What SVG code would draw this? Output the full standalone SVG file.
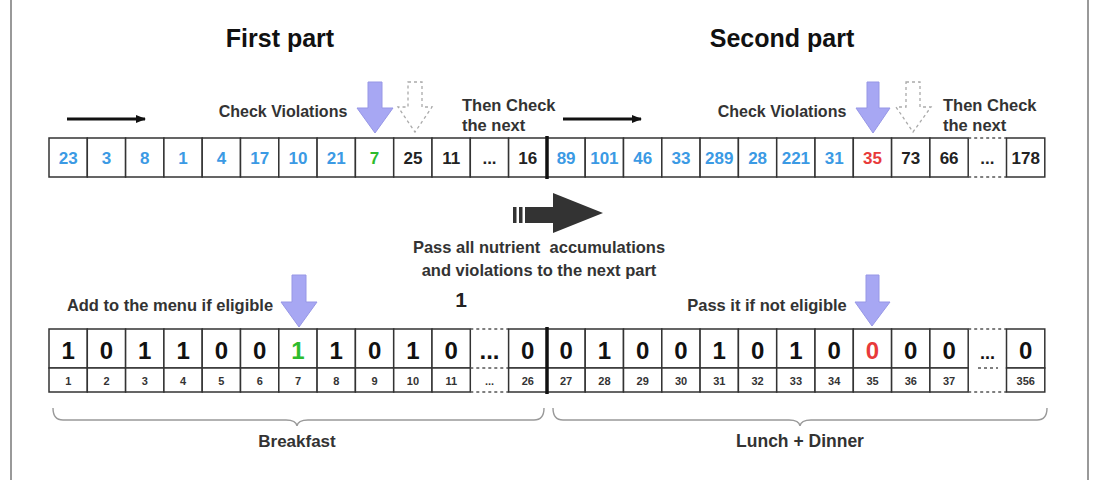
<svg xmlns="http://www.w3.org/2000/svg" width="1093" height="480" viewBox="0 0 1093 480">
<defs>
<style>
text{font-family:"Liberation Sans",Arial,sans-serif;font-weight:bold;text-anchor:middle}
.title{font-size:25px;fill:#111}
.lbl{font-size:16px;fill:#333}
.lbll{font-size:16.5px;fill:#333;text-anchor:start}
.tn{font-size:17px;dominant-baseline:central}
.bv{font-size:24px;fill:#111;dominant-baseline:central}
.bi{font-size:11px;fill:#333;dominant-baseline:central}
.bl{fill:#3b9ae4}
.bk{fill:#222}
text.gr{fill:#2dbb2d}
text.rd{fill:#e83a3a}
.cell{fill:#fff;stroke:#333;stroke-width:1.5}
.dash{stroke:#555;stroke-width:1.3;stroke-dasharray:3 3;fill:none}
.sep{stroke:#111;stroke-width:3.5}
.parr{fill:#a7a7f3;stroke:#9797e6;stroke-width:1}
.darr{fill:none;stroke:#aaa;stroke-width:1.3;stroke-dasharray:3 3}
.brace{fill:none;stroke:#999;stroke-width:1.4}
</style>
<marker id="ah" markerWidth="10" markerHeight="8" refX="9" refY="4" orient="auto" markerUnits="userSpaceOnUse">
<path d="M0,0 L10,4 L0,8 Z" fill="#111"/>
</marker>
</defs>
<rect x="0" y="0" width="1093" height="480" fill="#fff"/>
<line x1="11" y1="0" x2="11" y2="480" stroke="#777" stroke-width="1.5"/>
<line x1="1088" y1="0" x2="1088" y2="480" stroke="#777" stroke-width="1.5"/>

<g id="titles">
<text class="title" x="280" y="47">First part</text>
<text class="title" x="782" y="47">Second part</text>
</g>

<g id="connectors">
<line x1="67" y1="119" x2="145" y2="119" stroke="#111" stroke-width="3" marker-end="url(#ah)"/>
<line x1="563" y1="119" x2="641" y2="119" stroke="#111" stroke-width="3" marker-end="url(#ah)"/>
<g id="pass-arrow" fill="#333">
<rect x="513" y="207" width="3.5" height="16"/>
<rect x="519" y="207" width="3.5" height="16"/>
<polygon points="525,207 553,207 553,193 603,213 553,233 553,223 525,223"/>
</g>
<polygon class="parr" points="368,82 382,82 382,108 393,108 375,133 357,108 368,108"/>
<polygon class="darr" points="408,82 422,82 422,107 432,107 415,132 398,107 408,107"/>
<polygon class="parr" points="867,82 879,82 879,108 890,108 873,133 856,108 867,108"/>
<polygon class="darr" points="906,82 920,82 920,107 931,107 913,132 896,107 906,107"/>
<polygon class="parr" points="292,275 306,275 306,302 317,302 299,327 281,302 292,302"/>
<polygon class="parr" points="866,275 879,275 879,302 890,302 872,326 855,302 866,302"/>
</g>

<g id="labels">
<text class="lbl" x="283" y="117">Check Violations</text>
<text class="lbl" x="782" y="117">Check Violations</text>
<text class="lbll" x="462" y="111">Then Check</text>
<text class="lbll" x="462" y="131">the next</text>
<text class="lbll" x="943" y="111">Then Check</text>
<text class="lbll" x="943" y="131">the next</text>
<text class="lbl" x="539" y="253" style="font-size:16.5px" xml:space="preserve">Pass all nutrient  accumulations</text>
<text class="lbl" x="539" y="276" style="font-size:16.5px">and violations to the next part</text>
<text x="461" y="307" style="font-size:21px;fill:#222">1</text>
<text class="lbl" x="170" y="311" style="font-size:16.5px">Add to the menu if eligible</text>
<text class="lbl" x="767" y="311" style="font-size:16.5px">Pass it if not eligible</text>
</g>

<g id="top-row">
<rect class="cell" x="49" y="138" width="38.3" height="39"/>
<rect class="cell" x="87.3" y="138" width="38.3" height="39"/>
<rect class="cell" x="125.6" y="138" width="38.3" height="39"/>
<rect class="cell" x="163.9" y="138" width="38.3" height="39"/>
<rect class="cell" x="202.2" y="138" width="38.3" height="39"/>
<rect class="cell" x="240.5" y="138" width="38.3" height="39"/>
<rect class="cell" x="278.8" y="138" width="38.3" height="39"/>
<rect class="cell" x="317.1" y="138" width="38.3" height="39"/>
<rect class="cell" x="355.4" y="138" width="38.3" height="39"/>
<rect class="cell" x="393.7" y="138" width="38.3" height="39"/>
<rect class="cell" x="432" y="138" width="38.3" height="39"/>
<rect class="cell" x="470.3" y="138" width="38.3" height="39"/>
<rect class="cell" x="508.6" y="138" width="38.3" height="39"/>
<rect class="cell" x="546.9" y="138" width="38.3" height="39"/>
<rect class="cell" x="585.2" y="138" width="38.3" height="39"/>
<rect class="cell" x="623.5" y="138" width="38.3" height="39"/>
<rect class="cell" x="661.8" y="138" width="38.3" height="39"/>
<rect class="cell" x="700.1" y="138" width="38.3" height="39"/>
<rect class="cell" x="738.4" y="138" width="38.3" height="39"/>
<rect class="cell" x="776.7" y="138" width="38.3" height="39"/>
<rect class="cell" x="815" y="138" width="38.3" height="39"/>
<rect class="cell" x="853.3" y="138" width="38.3" height="39"/>
<rect class="cell" x="891.6" y="138" width="38.3" height="39"/>
<rect class="cell" x="929.9" y="138" width="38.3" height="39"/>
<line class="dash" x1="968.2" y1="138" x2="1006.5" y2="138"/>
<line class="dash" x1="968.2" y1="177" x2="1006.5" y2="177"/>
<rect class="cell" x="1006.5" y="138" width="38.3" height="39"/>
<line class="sep" x1="547" y1="136" x2="547" y2="179"/>
<g>
<text class="tn bl" x="68.2" y="158">23</text>
<text class="tn bl" x="106.5" y="158">3</text>
<text class="tn bl" x="144.8" y="158">8</text>
<text class="tn bl" x="183.1" y="158">1</text>
<text class="tn bl" x="221.4" y="158">4</text>
<text class="tn bl" x="259.7" y="158">17</text>
<text class="tn bl" x="298" y="158">10</text>
<text class="tn bl" x="336.3" y="158">21</text>
<text class="tn gr" x="374.6" y="158">7</text>
<text class="tn bk" x="412.9" y="158">25</text>
<text class="tn bk" x="451.2" y="158">11</text>
<text class="tn bk" x="489.5" y="158">...</text>
<text class="tn bk" x="527.8" y="158">16</text>
<text class="tn bl" x="566.1" y="158">89</text>
<text class="tn bl" x="604.4" y="158">101</text>
<text class="tn bl" x="642.7" y="158">46</text>
<text class="tn bl" x="681" y="158">33</text>
<text class="tn bl" x="719.3" y="158">289</text>
<text class="tn bl" x="757.6" y="158">28</text>
<text class="tn bl" x="795.9" y="158">221</text>
<text class="tn bl" x="834.2" y="158">31</text>
<text class="tn rd" x="872.5" y="158">35</text>
<text class="tn bk" x="910.8" y="158">73</text>
<text class="tn bk" x="949.1" y="158">66</text>
<text class="tn bk" x="987.4" y="158">...</text>
<text class="tn bk" x="1025.7" y="158">178</text>
</g>
</g>

<g id="bottom-row">
<g id="bottom-cells">
<rect class="cell" x="49" y="329" width="38.3" height="39"/><rect class="cell" x="49" y="368" width="38.3" height="24"/>
<rect class="cell" x="87.3" y="329" width="38.3" height="39"/><rect class="cell" x="87.3" y="368" width="38.3" height="24"/>
<rect class="cell" x="125.6" y="329" width="38.3" height="39"/><rect class="cell" x="125.6" y="368" width="38.3" height="24"/>
<rect class="cell" x="163.9" y="329" width="38.3" height="39"/><rect class="cell" x="163.9" y="368" width="38.3" height="24"/>
<rect class="cell" x="202.2" y="329" width="38.3" height="39"/><rect class="cell" x="202.2" y="368" width="38.3" height="24"/>
<rect class="cell" x="240.5" y="329" width="38.3" height="39"/><rect class="cell" x="240.5" y="368" width="38.3" height="24"/>
<rect class="cell" x="278.8" y="329" width="38.3" height="39"/><rect class="cell" x="278.8" y="368" width="38.3" height="24"/>
<rect class="cell" x="317.1" y="329" width="38.3" height="39"/><rect class="cell" x="317.1" y="368" width="38.3" height="24"/>
<rect class="cell" x="355.4" y="329" width="38.3" height="39"/><rect class="cell" x="355.4" y="368" width="38.3" height="24"/>
<rect class="cell" x="393.7" y="329" width="38.3" height="39"/><rect class="cell" x="393.7" y="368" width="38.3" height="24"/>
<rect class="cell" x="432" y="329" width="38.3" height="39"/><rect class="cell" x="432" y="368" width="38.3" height="24"/>
<line class="dash" x1="470.3" y1="329" x2="508.6" y2="329"/>
<line class="dash" x1="470.3" y1="368" x2="508.6" y2="368"/>
<line class="dash" x1="470.3" y1="392" x2="508.6" y2="392"/>
<rect class="cell" x="508.6" y="329" width="38.3" height="39"/><rect class="cell" x="508.6" y="368" width="38.3" height="24"/>
<rect class="cell" x="546.9" y="329" width="38.3" height="39"/><rect class="cell" x="546.9" y="368" width="38.3" height="24"/>
<rect class="cell" x="585.2" y="329" width="38.3" height="39"/><rect class="cell" x="585.2" y="368" width="38.3" height="24"/>
<rect class="cell" x="623.5" y="329" width="38.3" height="39"/><rect class="cell" x="623.5" y="368" width="38.3" height="24"/>
<rect class="cell" x="661.8" y="329" width="38.3" height="39"/><rect class="cell" x="661.8" y="368" width="38.3" height="24"/>
<rect class="cell" x="700.1" y="329" width="38.3" height="39"/><rect class="cell" x="700.1" y="368" width="38.3" height="24"/>
<rect class="cell" x="738.4" y="329" width="38.3" height="39"/><rect class="cell" x="738.4" y="368" width="38.3" height="24"/>
<rect class="cell" x="776.7" y="329" width="38.3" height="39"/><rect class="cell" x="776.7" y="368" width="38.3" height="24"/>
<rect class="cell" x="815" y="329" width="38.3" height="39"/><rect class="cell" x="815" y="368" width="38.3" height="24"/>
<rect class="cell" x="853.3" y="329" width="38.3" height="39"/><rect class="cell" x="853.3" y="368" width="38.3" height="24"/>
<rect class="cell" x="891.6" y="329" width="38.3" height="39"/><rect class="cell" x="891.6" y="368" width="38.3" height="24"/>
<rect class="cell" x="929.9" y="329" width="38.3" height="39"/><rect class="cell" x="929.9" y="368" width="38.3" height="24"/>
<line class="dash" x1="968.2" y1="329" x2="1006.5" y2="329"/>
<line class="dash" x1="978" y1="368" x2="998" y2="368"/>
<line class="dash" x1="968.2" y1="392" x2="1006.5" y2="392"/>
<rect class="cell" x="1006.5" y="329" width="38.3" height="39"/><rect class="cell" x="1006.5" y="368" width="38.3" height="24"/>
<line class="sep" x1="547" y1="327" x2="547" y2="394"/>
</g>
<g id="bottom-values">
<text class="bv" x="68.2" y="350">1</text>
<text class="bv" x="106.5" y="350">0</text>
<text class="bv" x="144.8" y="350">1</text>
<text class="bv" x="183.1" y="350">1</text>
<text class="bv" x="221.4" y="350">0</text>
<text class="bv" x="259.7" y="350">0</text>
<text class="bv gr" x="298" y="350">1</text>
<text class="bv" x="336.3" y="350">1</text>
<text class="bv" x="374.6" y="350">0</text>
<text class="bv" x="412.9" y="350">1</text>
<text class="bv" x="451.2" y="350">0</text>
<text class="bv" x="489.5" y="350">...</text>
<text class="bv" x="527.8" y="350">0</text>
<text class="bv" x="566.1" y="350">0</text>
<text class="bv" x="604.4" y="350">1</text>
<text class="bv" x="642.7" y="350">0</text>
<text class="bv" x="681" y="350">0</text>
<text class="bv" x="719.3" y="350">1</text>
<text class="bv" x="757.6" y="350">0</text>
<text class="bv" x="795.9" y="350">1</text>
<text class="bv" x="834.2" y="350">0</text>
<text class="bv rd" x="872.5" y="350">0</text>
<text class="bv" x="910.8" y="350">0</text>
<text class="bv" x="949.1" y="350">0</text>
<text class="bv" x="987.4" y="353" style="font-size:18px">...</text>
<text class="bv" x="1025.7" y="350">0</text>
</g>
<g id="bottom-index">
<text class="bi" x="68.2" y="381">1</text>
<text class="bi" x="106.5" y="381">2</text>
<text class="bi" x="144.8" y="381">3</text>
<text class="bi" x="183.1" y="381">4</text>
<text class="bi" x="221.4" y="381">5</text>
<text class="bi" x="259.7" y="381">6</text>
<text class="bi" x="298" y="381">7</text>
<text class="bi" x="336.3" y="381">8</text>
<text class="bi" x="374.6" y="381">9</text>
<text class="bi" x="412.9" y="381">10</text>
<text class="bi" x="451.2" y="381">11</text>
<text class="bi" x="489.5" y="381">...</text>
<text class="bi" x="527.8" y="381">26</text>
<text class="bi" x="566.1" y="381">27</text>
<text class="bi" x="604.4" y="381">28</text>
<text class="bi" x="642.7" y="381">29</text>
<text class="bi" x="681" y="381">30</text>
<text class="bi" x="719.3" y="381">31</text>
<text class="bi" x="757.6" y="381">32</text>
<text class="bi" x="795.9" y="381">33</text>
<text class="bi" x="834.2" y="381">34</text>
<text class="bi" x="872.5" y="381">35</text>
<text class="bi" x="910.8" y="381">36</text>
<text class="bi" x="949.1" y="381">37</text>
<text class="bi" x="1025.7" y="381">356</text>
</g>
</g>

<g id="braces">
<path class="brace" d="M53,408 Q53,420 63,420 L286,420 Q296,420 297,426 Q298,420 308,420 L534,420 Q544,420 544,408"/>
<path class="brace" d="M553,408 Q553,420 563,420 L789,420 Q799,420 800,426 Q801,420 811,420 L1037,420 Q1047,420 1047,408"/>
<text class="lbl" x="297" y="447" style="font-size:17px">Breakfast</text>
<text class="lbl" x="800" y="447" style="font-size:17.5px">Lunch + Dinner</text>
</g>
</svg>
